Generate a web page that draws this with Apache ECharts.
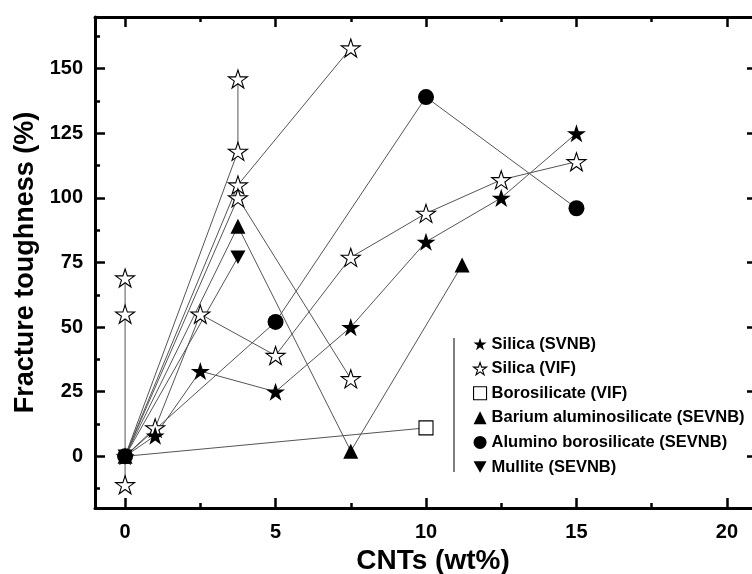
<!DOCTYPE html>
<html><head><meta charset="utf-8">
<script src="https://cdn.jsdelivr.net/npm/echarts@6/dist/echarts.min.js"></script>
<style>html,body{margin:0;padding:0;background:#fff;overflow:hidden}#c{width:752px;height:574px}</style>
</head><body><div id="c"></div>
<script>
// ---- data ----
const xTicks = [0, 5, 10, 15, 20];
const xMinorTicks = [2.5, 7.5, 12.5, 17.5];
const yTicks = [0, 25, 50, 75, 100, 125, 150];
const yMinorTicks = [-12.5, 12.5, 37.5, 62.5, 87.5, 112.5, 137.5, 162.5];

const silicaSVNB = [[0,0],[1,8],[2.5,33],[5,25],[7.5,50],[10,83],[12.5,100],[15,125]];
const silicaVIF_a = [[0,0],[1,11],[2.5,55],[5,39],[7.5,77],[10,94],[12.5,107],[15,114]];
const silicaVIF_b = [[0,0],[3.75,118],[3.75,146]];
const silicaVIF_c = [[0,0],[3.75,105],[7.5,158]];
const silicaVIF_d = [[0,0],[3.75,100],[7.5,30]];
const silicaVIF_e = [[0,-11],[0,0],[0,55],[0,69]];
const borosilicateVIF = [[0,0],[10,11]];
const bariumSEVNB = [[0,0],[3.75,89],[7.5,2],[11.2,74]];
const aluminoSEVNB = [[0,0],[5,52],[10,139],[15,96]];
const mulliteSEVNB = [[0,0],[3.75,77]];

const names = ['Silica (SVNB)','Silica (VIF)','Borosilicate (VIF)','Barium aluminosilicate (SEVNB)','Alumino borosilicate (SEVNB)','Mullite (SEVNB)'];

// ---- styling ----
const STAR = 'path://M0,-10 L2.245,-3.09 L9.511,-3.09 L3.633,1.18 L5.878,8.09 L0,3.82 L-5.878,8.09 L-3.633,1.18 L-9.511,-3.09 L-2.245,-3.09 Z';
const DOWN = 'path://M0,0 L10,0 L5,9 Z';
const FONT = '"Liberation Sans", Arial, sans-serif';
const filled = {color:'#000', opacity:1};
const hollow = {color:'#fff', borderColor:'#000', borderWidth:1.1, opacity:1};
const notOrigin = a => a.filter(p => !(p[0] === 0 && p[1] === 0));

const lineSets = [silicaSVNB, silicaVIF_a, silicaVIF_b, silicaVIF_c, silicaVIF_d, silicaVIF_e, borosilicateVIF, bariumSEVNB, aluminoSEVNB, mulliteSEVNB];
const series = [];
lineSets.forEach((d, i) => series.push({
  type:'line', name:'study'+i, data:d, showSymbol:false, symbol:'none', z:1,
  lineStyle:{color:'#555', width:1}, silent:true, animation:false
}));
const pointSets = [
  {name:names[1], data:notOrigin([].concat(silicaVIF_a, silicaVIF_b, silicaVIF_c, silicaVIF_d, silicaVIF_e)), symbol:STAR, size:19, style:hollow},
  {name:names[2], data:notOrigin(borosilicateVIF), symbol:'rect', size:14, style:hollow},
  {name:names[0], data:silicaSVNB, symbol:STAR, size:19, style:filled},
  {name:names[4], data:aluminoSEVNB, symbol:'circle', size:16, style:filled},
  {name:names[3], data:bariumSEVNB, symbol:'triangle', size:15, style:filled},
  {name:names[5], data:mulliteSEVNB, symbol:DOWN, size:15, style:filled}
];
pointSets.forEach((s, i) => series.push({
  type:'scatter', name:s.name, data:s.data, symbol:s.symbol, symbolSize:s.size,
  symbolKeepAspect:true, itemStyle:s.style, z:3+i, animation:false
}));

const axisLine = {show:true, onZero:false, lineStyle:{color:'#000', width:3}};
const noLine = {show:false, onZero:false};
const majorTick = vals => ({show:true, inside:true, length:10, customValues:vals, lineStyle:{color:'#000', width:2.5}});
const minorTickA = vals => ({show:true, inside:true, length:5, customValues:vals, lineStyle:{color:'#000', width:2.5}});
const noLabel = {show:false};
const lblStyle = {fontFamily:FONT, fontWeight:'bold', fontSize:20, color:'#000'};

const xBase = {type:'value', min:-1, max:21, splitLine:{show:false}, gridIndex:0};
const yBase = {type:'value', min:-20, max:170, splitLine:{show:false}, gridIndex:0};

const option = {
  animation:false,
  backgroundColor:'#fff',
  grid:{left:95, width:662, top:17, height:491, containLabel:false, outerBoundsMode:'none'},
  xAxis:[
    Object.assign({}, xBase, {position:'bottom', axisLine:axisLine, axisTick:majorTick(xTicks),
      axisLabel:Object.assign({customValues:xTicks, margin:14}, lblStyle),
      name:'CNTs (wt%)', nameLocation:'middle', nameGap:31,
      nameTextStyle:{fontFamily:FONT, fontWeight:'bold', fontSize:28, color:'#000', padding:[0,0,0,14]}}),
    Object.assign({}, xBase, {position:'top', axisLine:axisLine, axisTick:majorTick(xTicks), axisLabel:noLabel}),
    Object.assign({}, xBase, {position:'bottom', axisLine:noLine, axisTick:minorTickA(xMinorTicks), axisLabel:noLabel}),
    Object.assign({}, xBase, {position:'top', axisLine:noLine, axisTick:minorTickA(xMinorTicks), axisLabel:noLabel})
  ],
  yAxis:[
    Object.assign({}, yBase, {position:'left', axisLine:axisLine, axisTick:majorTick(yTicks),
      axisLabel:Object.assign({customValues:yTicks, margin:12}, lblStyle),
      name:'Fracture toughness (%)', nameLocation:'middle', nameGap:41,
      nameTextStyle:{fontFamily:FONT, fontWeight:'bold', fontSize:27, color:'#000'}}),
    Object.assign({}, yBase, {position:'right', axisLine:axisLine, axisTick:majorTick(yTicks), axisLabel:noLabel}),
    Object.assign({}, yBase, {position:'left', axisLine:noLine, axisTick:minorTickA(yMinorTicks), axisLabel:noLabel}),
    Object.assign({}, yBase, {position:'right', axisLine:noLine, axisTick:minorTickA(yMinorTicks), axisLabel:noLabel})
  ],
  legend:{
    orient:'vertical', left:468, top:330, itemWidth:13, itemHeight:13, itemGap:6.6,
    textStyle:{fontFamily:FONT, fontWeight:'bold', fontSize:16.5, color:'#000', lineHeight:18, padding:[0,0,0,0]},
    data:[
      {name:names[0], icon:STAR, itemStyle:filled},
      {name:names[1], icon:STAR, itemStyle:hollow},
      {name:names[2], icon:'rect', itemStyle:hollow},
      {name:names[3], icon:'triangle', itemStyle:filled},
      {name:names[4], icon:'circle', itemStyle:filled},
      {name:names[5], icon:DOWN, itemStyle:filled}
    ],
    selectedMode:false
  },
  graphic:[{type:'line', shape:{x1:454, y1:338, x2:454, y2:472}, style:{stroke:'#555', lineWidth:1.5}, silent:true}],
  series:series
};
series.forEach(s => { s.xAxisIndex = 0; s.yAxisIndex = 0; });
const chart = echarts.init(document.getElementById('c'), null, {renderer:'canvas'});
chart.setOption(option);
</script></body></html>
